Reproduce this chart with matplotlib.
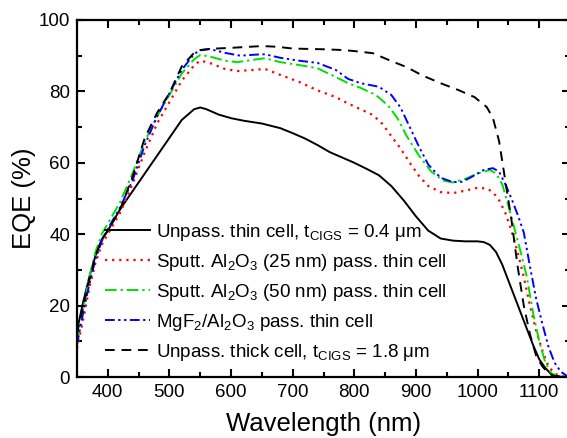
import matplotlib
matplotlib.use("Agg")
import matplotlib.pyplot as plt
from matplotlib.ticker import MultipleLocator

plt.rcParams['font.family'] = ['Liberation Sans', 'DejaVu Sans']
plt.rcParams['mathtext.default'] = 'regular'

# ---- data ----
wl_thin = [350, 360, 370, 380, 390, 400, 420, 440, 460, 480, 500, 520, 540, 550, 560, 580, 600,
           620, 650, 680, 700, 720, 740, 760, 780, 800, 820, 840, 860, 880, 900, 920, 940, 960,
           980, 1000, 1010, 1020, 1030, 1040, 1050, 1060, 1070, 1080, 1090, 1100, 1110, 1120,
           1130, 1150]
eqe_thin = [13, 21, 28, 34, 38.5, 41, 47, 52, 57, 62, 67, 72, 75, 75.5, 75, 73.5, 72.5,
            71.8, 71, 69.7, 68.3, 66.8, 65, 63, 61.5, 60, 58.3, 56.5, 53.5, 49.5, 45, 41, 38.8, 38.2,
            38, 38, 37.8, 37, 35, 31.5, 27, 22.5, 18, 13.5, 9, 5, 2.5, 0.7,
            0.1, 0]

wl_al25 = [350, 360, 370, 380, 390, 400, 420, 440, 460, 480, 500, 520, 540, 550, 565, 590, 610,
           635, 655, 680, 710, 740, 770, 790, 810, 830, 845, 860, 875, 890, 905, 920, 940, 960,
           980, 1000, 1015, 1025, 1035, 1045, 1055, 1065, 1075, 1085, 1095, 1105, 1115, 1125,
           1135, 1150]
eqe_al25 = [8, 16, 25, 32, 37, 40, 46, 54, 63, 71, 77, 83, 87.3, 88.6, 88, 86.3, 85.7,
            86, 86.3, 84.6, 82.7, 80.3, 78.4, 76.6, 75, 73.4, 71, 67.5, 64, 60, 56.3, 53.5, 51.8, 51.5,
            52.2, 53, 52.8, 51.8, 49.5, 46, 41, 35, 28, 20, 13, 7.5, 3, 1,
            0.2, 0]

wl_al50 = [350, 360, 370, 380, 390, 400, 420, 440, 460, 480, 500, 520, 540, 550, 565, 590, 610,
           630, 655, 680, 710, 740, 770, 790, 810, 835, 855, 870, 885, 905, 925, 945, 960, 980,
           1000, 1020, 1030, 1040, 1050, 1060, 1070, 1080, 1090, 1100, 1110, 1120, 1130, 1150]
eqe_al50 = [10, 19, 28, 35, 40, 43, 49, 57, 66, 73, 79, 85, 89, 90.2, 89.8, 88.6, 88.2,
            88.7, 89.3, 88.2, 87.4, 86.5, 84, 82.3, 81, 79, 76, 72.5, 67.5, 62, 57.5, 55, 54.5, 55.5,
            57, 58, 57, 54, 48, 41.5, 35, 28, 18, 10, 4, 1, 0.2, 0]

wl_mgf2 = [350, 360, 370, 380, 390, 400, 420, 440, 460, 480, 500, 520, 540, 550, 565, 590, 615,
           640, 655, 680, 710, 740, 770, 790, 810, 840, 860, 875, 890, 905, 920, 940, 960, 975,
           990, 1010, 1025, 1035, 1045, 1055, 1065, 1075, 1085, 1095, 1105, 1115, 1125, 1135,
           1145, 1150]
eqe_mgf2 = [9, 18, 26, 33, 38, 41.5, 47.5, 55, 65, 73, 79.5, 86, 90.5, 91.5, 91.9, 90.8, 90,
            90.3, 90.4, 89.4, 88.6, 88, 86, 83.5, 82.3, 81.3, 79, 75.5, 70, 64.5, 59.5, 55.8, 54.6, 54.7,
            56, 58, 58.5, 57.5, 54, 50, 45.5, 40.5, 31, 22, 15, 8.5, 4, 1.5,
            0.3, 0]

wl_thick = [350, 360, 370, 380, 390, 400, 420, 440, 460, 480, 500, 520, 540, 550, 575, 600, 650,
            675, 700, 750, 780, 800, 830, 860, 885, 910, 940, 970, 995, 1015, 1025, 1035, 1045,
            1055, 1065, 1075, 1085, 1095, 1105, 1115, 1125, 1150]
eqe_thick = [12, 20, 27, 34, 38.5, 41, 47, 56, 67, 74, 79.5, 87, 90.8, 91.6, 92, 92.2, 92.7,
             92.5, 92, 91.8, 91.6, 91.3, 90.7, 88.5, 86.8, 84.5, 82.3, 80.3, 78.4, 75.6, 72.5, 66, 55,
             44, 31, 20, 12, 6, 3, 1, 0.3, 0]

labels = [
    r"Unpass. thin cell, t$_{CIGS}$ = 0.4 μm",
    r"Sputt. Al$_2$O$_3$ (25 nm) pass. thin cell",
    r"Sputt. Al$_2$O$_3$ (50 nm) pass. thin cell",
    r"MgF$_2$/Al$_2$O$_3$ pass. thin cell",
    r"Unpass. thick cell, t$_{CIGS}$ = 1.8 μm",
]

fig = plt.figure(figsize=(5.67, 4.38), dpi=100)
ax = fig.add_axes([77 / 567, 61 / 438, 493 / 567, 357 / 438])

ax.plot(wl_thin, eqe_thin, color='black', lw=1.4, ls='-', label=labels[0])
ax.plot(wl_al25, eqe_al25, color='#ff0000', lw=1.6, ls=(0, (1, 2.2)), label=labels[1])
ax.plot(wl_al50, eqe_al50, color='#00e000', lw=1.4, ls=(0, (6, 2, 1.2, 2)), label=labels[2])
ax.plot(wl_mgf2, eqe_mgf2, color='#0000ff', lw=1.4, ls=(0, (5, 1.8, 1.2, 1.8, 1.2, 1.8)), label=labels[3])
ax.plot(wl_thick, eqe_thick, color='black', lw=1.4, ls=(0, (5, 3.5)), label=labels[4])

ax.set_xlim(350, 1150)
ax.set_ylim(0, 100)
ax.xaxis.set_major_locator(MultipleLocator(100))
ax.xaxis.set_minor_locator(MultipleLocator(50))
ax.yaxis.set_major_locator(MultipleLocator(20))
ax.yaxis.set_minor_locator(MultipleLocator(10))
ax.tick_params(which='both', direction='in', top=True, right=True, width=1.5, labelsize=13.5, pad=5)
ax.tick_params(which='major', length=6)
ax.tick_params(which='minor', length=3.5)
for s in ax.spines.values():
    s.set_linewidth(1.6)

ax.set_xlabel("Wavelength (nm)", fontsize=18.5, labelpad=8)
ax.set_ylabel("EQE (%)", fontsize=18.5, labelpad=2)

ax.legend(loc='upper left', bbox_to_anchor=(0.057, 0.434), frameon=False, fontsize=13.5,
          handlelength=2.4, handletextpad=0.3, labelspacing=0.48, borderpad=0, borderaxespad=0)

fig.savefig("out.png", dpi=100)
